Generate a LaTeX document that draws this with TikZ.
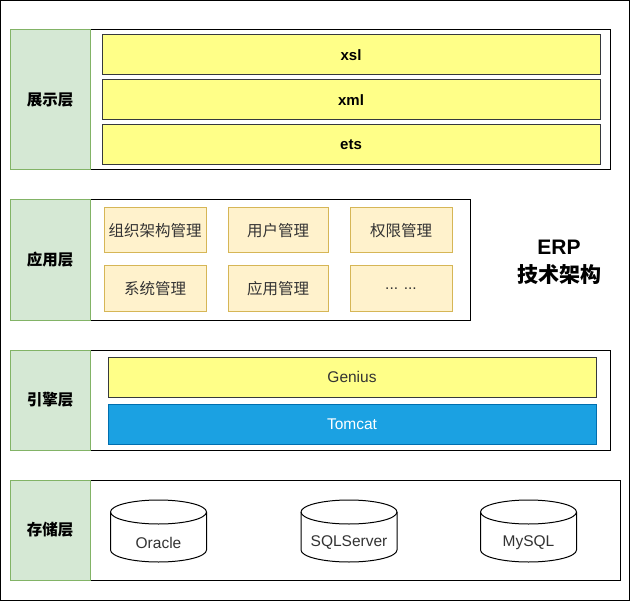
\documentclass[tikz,border=0pt]{standalone}
\usepackage{fontspec}
\setmainfont{Liberation Sans}
\newfontfamily\cjk{Noto Sans CJK SC}
\definecolor{lgreen}{HTML}{D5E8D4}
\definecolor{dgreen}{HTML}{82B366}
\definecolor{lyellow}{HTML}{FFFF88}
\definecolor{dyellow}{HTML}{36393D}
\definecolor{lmod}{HTML}{FFF2CC}
\definecolor{dmod}{HTML}{D6B656}
\definecolor{lblue}{HTML}{1BA1E2}
\definecolor{dblue}{HTML}{006EAF}
\definecolor{txt}{HTML}{333333}
\tikzset{
  base/.style={anchor=north west, inner sep=0pt, outer sep=0pt, line width=1pt},
  layerbox/.style={base, draw=black, fill=white},
  labelbox/.style={base, draw=dgreen, fill=lgreen, font=\cjk\bfseries\fontsize{15.5}{18}\selectfont},
  ybox/.style={base, draw=dyellow, fill=lyellow, minimum width=498pt, minimum height=40pt, font=\bfseries\fontsize{15}{18}\selectfont},
  modbox/.style={base, draw=dmod, fill=lmod, minimum height=45pt, text=txt, font=\cjk\fontsize{15.5}{18}\selectfont},
  engbox/.style={base, minimum width=488pt, minimum height=40pt, font=\fontsize{15.5}{18}\selectfont},
  dblabel/.style={inner sep=0pt, text=txt, font=\fontsize{15.5}{18}\selectfont},
  cyl/.style={line width=1pt, draw=black, fill=white},
}
\begin{document}
\begin{tikzpicture}[x=1pt,y=-1pt]
\useasboundingbox (0,0) rectangle (631,601);
\node[base, draw=black, minimum width=629pt, minimum height=600pt] (frame) at (0.5,0.5) {};

% presentation layer
\node[layerbox, minimum width=520pt, minimum height=140pt] (w1) at (90,30) {};
\node[labelbox, minimum width=80pt, minimum height=140pt] (g1) at (10,30) {展示层};
\node[ybox] (xsl) at (102,35) {xsl};
\node[ybox] (xml) at (102,80) {xml};
\node[ybox] (ets) at (102,125) {ets};

% application layer
\node[layerbox, minimum width=380pt, minimum height=120pt] (w2) at (90,200) {};
\node[labelbox, minimum width=80pt, minimum height=120pt] (g2) at (10,200) {应用层};
\node[modbox, minimum width=102pt] (m1) at (104,208) {组织架构管理};
\node[modbox, minimum width=100pt] (m2) at (228,208) {用户管理};
\node[modbox, minimum width=102pt] (m3) at (350,208) {权限管理};
\node[modbox, minimum width=102pt] (m4) at (104,266) {系统管理};
\node[modbox, minimum width=100pt] (m5) at (228,266) {应用管理};
\node[modbox, minimum width=102pt, font=\fontsize{15.5}{18}\selectfont] (m6) at (350,266) {... ...};

\node[inner sep=0pt, font=\bfseries\fontsize{21}{24}\selectfont] (erp) at (559,247) {ERP};
\node[inner sep=0pt, font=\cjk\bfseries\fontsize{21}{24}\selectfont] (erpcn) at (559,275) {技术架构};

% engine layer
\node[layerbox, minimum width=520pt, minimum height=100pt] (w3) at (90,350) {};
\node[labelbox, minimum width=80pt, minimum height=100pt] (g3) at (10,350) {引擎层};
\node[engbox, draw=dyellow, fill=lyellow, text=txt] (genius) at (108,357) {Genius};
\node[engbox, draw=dblue, fill=lblue, text=white] (tomcat) at (108,404) {Tomcat};

% storage layer
\node[layerbox, minimum width=530pt, minimum height=100pt] (w4) at (90,480) {};
\node[labelbox, minimum width=80pt, minimum height=100pt] (g4) at (10,480) {存储层};

\foreach \cx/\nm/\lb in {158.5/oracle/Oracle, 349/sqlserver/SQLServer, 528.5/mysql/MySQL}{
  \draw[cyl] (\cx-48,512) -- (\cx-48,550) arc[start angle=180, end angle=0, x radius=48, y radius=12] -- (\cx+48,512) arc[start angle=0, end angle=-180, x radius=48, y radius=12] -- cycle;
  \draw[line width=1pt] (\cx-48,512) arc[start angle=180, end angle=0, x radius=48, y radius=12];
  \node[dblabel] (\nm) at (\cx,543) {\lb};
}
\end{tikzpicture}
\end{document}
